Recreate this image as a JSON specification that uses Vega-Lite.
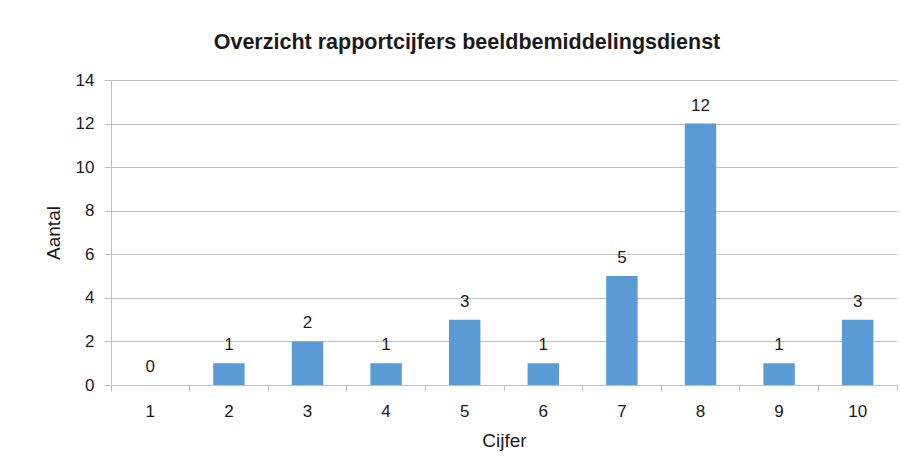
{
  "$schema": "https://vega.github.io/schema/vega-lite/v6.json",
  "autosize": "none",
  "width": 786,
  "height": 305,
  "padding": {"left": 111, "top": 80, "right": 4, "bottom": 90},
  "background": "white",
  "title": {
    "text": "Overzicht rapportcijfers beeldbemiddelingsdienst",
    "font": "Liberation Sans",
    "fontSize": 21.5,
    "fontWeight": "bold",
    "color": "#1a1a1a",
    "anchor": "middle",
    "dx": -37,
    "offset": 18
  },
  "data": {
    "values": [
      {"Cijfer": 1, "Aantal": 0},
      {"Cijfer": 2, "Aantal": 1},
      {"Cijfer": 3, "Aantal": 2},
      {"Cijfer": 4, "Aantal": 1},
      {"Cijfer": 5, "Aantal": 3},
      {"Cijfer": 6, "Aantal": 1},
      {"Cijfer": 7, "Aantal": 5},
      {"Cijfer": 8, "Aantal": 12},
      {"Cijfer": 9, "Aantal": 1},
      {"Cijfer": 10, "Aantal": 3}
    ]
  },
  "layer": [
    {
      "mark": {"type": "bar", "color": "#5B9BD5"},
      "encoding": {
        "x": {
          "field": "Cijfer",
          "type": "ordinal",
          "scale": {"paddingInner": 0.6, "paddingOuter": 0.3},
          "axis": {
            "title": "Cijfer",
            "orient": "bottom",
            "labelAngle": 0,
            "bandPosition": 1.75,
            "tickSize": 6,
            "labelPadding": 12,
            "titlePadding": 12
          }
        },
        "y": {
          "field": "Aantal",
          "type": "quantitative",
          "scale": {"domain": [0, 14], "nice": false},
          "axis": {
            "title": "Aantal",
            "values": [0, 2, 4, 6, 8, 10, 12, 14],
            "tickSize": 7,
            "labelPadding": 10,
            "titlePadding": 12
          }
        }
      }
    },
    {
      "mark": {"type": "text", "baseline": "bottom", "dy": -9, "font": "Liberation Sans", "fontSize": 17, "color": "#1a1a1a"},
      "encoding": {
        "x": {
          "field": "Cijfer",
          "type": "ordinal",
          "axis": {
            "orient": "bottom",
            "title": null,
            "labels": false,
            "domain": false,
            "bandPosition": -0.75,
            "tickSize": 6,
            "values": [1]
          }
        },
        "y": {"field": "Aantal", "type": "quantitative"},
        "text": {"field": "Aantal", "type": "quantitative"}
      }
    }
  ],
  "resolve": {"axis": {"x": "independent"}},
  "config": {
    "view": {"stroke": null},
    "axis": {
      "labelFont": "Liberation Sans",
      "labelFontSize": 17,
      "labelColor": "#1a1a1a",
      "titleFont": "Liberation Sans",
      "titleFontSize": 19,
      "titleFontWeight": "normal",
      "titleColor": "#1a1a1a",
      "domainColor": "#BFBFBF",
      "tickColor": "#BFBFBF",
      "gridColor": "#BFBFBF",
      "domainWidth": 1,
      "gridWidth": 1
    },
    "axisX": {"grid": false},
    "axisY": {"grid": true, "domain": true}
  }
}
